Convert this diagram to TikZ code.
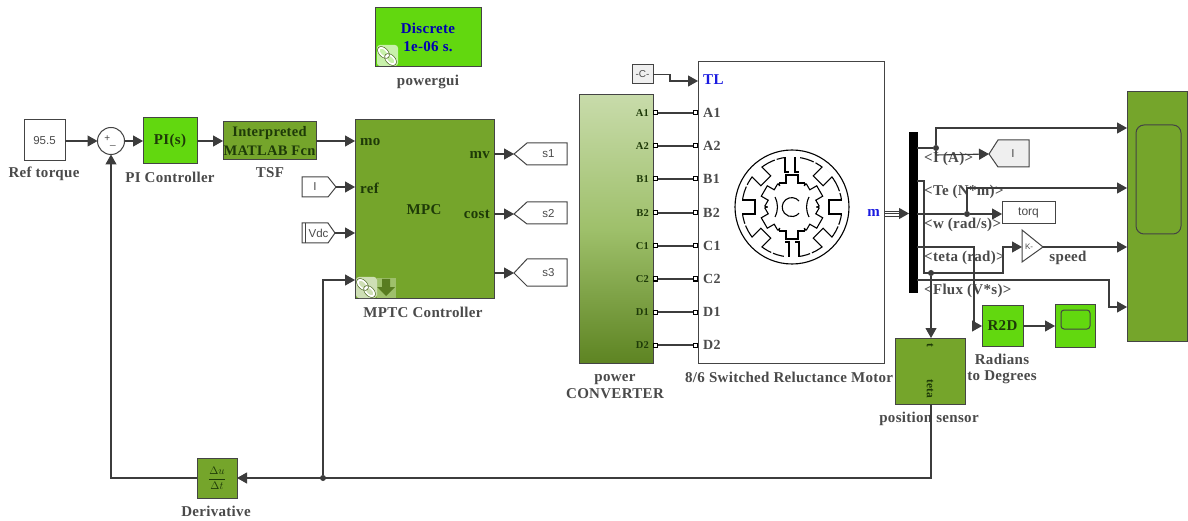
\documentclass[tikz,border=0pt]{standalone}
\usepackage{fontspec}
\setmainfont[LetterSpace=2]{Liberation Serif}
\newfontfamily\sansf{Liberation Sans}
\usetikzlibrary{arrows.meta,calc}
\definecolor{bright}{HTML}{62D80F}
\definecolor{olive}{HTML}{75A52B}
\definecolor{wire}{HTML}{3C3C3C}
\definecolor{edge}{HTML}{444444}
\definecolor{lab}{HTML}{4A4A4A}
\definecolor{inkg}{HTML}{1E3A08}
\definecolor{tagfill}{HTML}{EFEFEF}
\definecolor{blueport}{HTML}{1A1AE0}
\tikzset{
  blk/.style={draw=edge,line width=1pt,inner sep=0pt,outer sep=0pt,align=center},
  brightb/.style={blk,fill=bright},
  oliveb/.style={blk,fill=olive},
  plainb/.style={blk,fill=white},
  sig/.style={draw=wire,line width=1.1pt,-{Triangle[length=10pt,width=11pt]}},
  wireonly/.style={draw=wire,line width=1.1pt},
  elec/.style={draw=wire,line width=1.3pt},
  dotj/.style={circle,fill=wire,inner sep=0pt,minimum size=6pt},
  lbl/.style={font=\bfseries\fontsize{15}{17}\selectfont,text=lab,inner sep=0pt,align=center},
  blab/.style={font=\bfseries\fontsize{15}{17}\selectfont,text=inkg,inner sep=0pt,align=center},
  sglab/.style={font=\bfseries\fontsize{15}{17}\selectfont,text=lab,inner sep=0pt},
  plab/.style={font=\bfseries\fontsize{10.5}{13}\selectfont,text=inkg,inner sep=0pt},
  mlab/.style={font=\bfseries\fontsize{14}{16}\selectfont,text=lab,inner sep=0pt},
  blue/.style={font=\bfseries\fontsize{15}{17}\selectfont,text=blueport,inner sep=0pt},
  sf/.style={font=\sansf\fontsize{11.5}{13}\selectfont,text=lab,inner sep=0pt},
  port/.style={draw=black,fill=white,line width=1pt,inner sep=0pt,minimum size=4pt},
  icon/.style={black,line width=1.1pt},
}
% name, x1, y1, x2, y2, style, text
\newcommand{\blkat}[7]{\node[#6,minimum width={(#4-#2)*1pt},minimum height={(#5-#3)*1pt}] (#1) at ({(#2+#4)/2},{(#3+#5)/2}) {#7};}
\newcommand{\linkicon}[2]{%
  \fill[white,opacity=.65,rounded corners=3pt] (#1-10,#2-11) rectangle (#1+11,#2+10);
  \draw[white,line width=2pt,rotate around={45:(#1,#2)}] (#1,#2-5) ellipse (3.5 and 6) (#1,#2+5) ellipse (3.5 and 6);
  \draw[olive!60!black,line width=.5pt,rotate around={45:(#1,#2)}] (#1,#2-5) ellipse (4.5 and 7) (#1,#2+5) ellipse (4.5 and 7);}
\begin{document}
\begin{tikzpicture}[x=1pt,y=-1pt]
\useasboundingbox (0,0) rectangle (1188,521);
\fill[white] (0,0) rectangle (1188,521);

% --- left chain
\blkat{ref}{24}{120}{65}{161}{plainb}{\sansf\fontsize{11.5}{13}\selectfont\color{lab}95.5}
\node[draw=edge,fill=white,circle,line width=1pt,minimum size=27pt,inner sep=0pt,outer sep=0pt] (sum) at (111,141) {};
\node[font=\sansf\fontsize{10}{10}\selectfont,text=lab,inner sep=0pt] (sumtxt) at (110,141) {+\raisebox{-3pt}{\_}};
\blkat{pi}{143}{118}{197}{164}{brightb}{\color{inkg}\bfseries\fontsize{15}{17}\selectfont PI(s)}
\blkat{tsf}{223}{122}{316}{160}{oliveb,font=\bfseries\fontsize{14.5}{19}\selectfont,text=inkg}{Interpreted\\MATLAB Fcn}
\node[lbl] (reflab) at (44,174) {Ref torque};
\node[lbl] (pilab) at (170,177) {PI Controller};
\node[lbl] (tsflab) at (270,173) {TSF};

% --- powergui
\blkat{gui}{375}{8}{481}{67}{brightb,font=\bfseries\fontsize{15}{18}\selectfont,text=blue!70!black}{Discrete\\1e-06 s.}
\linkicon{387}{56}
\node[lbl] (guilab) at (428,82) {powergui};

% --- MPC
\blkat{mpc}{355}{120}{494}{298}{oliveb}{}
\node[blab] (mpct) at (424,210) {MPC};
\node[blab,anchor=west] (mo) at (360,142) {mo};
\node[blab,anchor=west] (reft) at (360,188) {ref};
\node[blab,anchor=east] (mv) at (490,155) {mv};
\node[blab,anchor=east] (cost) at (490,214) {cost};
\linkicon{366}{288}
\fill[white,opacity=.3] (377,278) rectangle (396,298);
\fill[olive!75!black] (382,279) -- (390,279) -- (390,287) -- (395,287) -- (386,296) -- (377,287) -- (382,287) -- cycle;
\node[lbl] (mpclab) at (423,312) {MPTC Controller};

% --- tags
\draw[edge,line width=1pt,fill=white] (302,177) -- (328,177) -- (336,187) -- (328,197) -- (302,197) -- cycle;
\node[minimum width=34pt,minimum height=20pt,inner sep=0pt,outer sep=0pt,sf] (tagi) at (319,187) {\hspace{-8pt}I};
\draw[edge,line width=1pt,fill=white] (302,223) -- (328,223) -- (335,233) -- (328,243) -- (302,243) -- cycle;
\draw[edge,line width=.8pt] (305,223) -- (305,243);
\node[minimum width=33pt,minimum height=20pt,inner sep=0pt,outer sep=0pt,sf] (tagv) at (318.5,233) {Vdc};

\draw[edge,line width=1pt,fill=white] (514,154) -- (527,143) -- (567,143) -- (567,165) -- (527,165) -- cycle;
\node[minimum width=53pt,minimum height=22pt,inner sep=0pt,outer sep=0pt,sf] (s1) at (540.5,154) {\hspace{16pt}s1};
\draw[edge,line width=1pt,fill=white] (514,214) -- (527,202) -- (567,202) -- (567,224) -- (527,224) -- cycle;
\node[minimum width=53pt,minimum height=22pt,inner sep=0pt,outer sep=0pt,sf] (s2) at (540.5,214) {\hspace{16pt}s2};
\draw[edge,line width=1pt,fill=white] (514,273) -- (527,259) -- (567,259) -- (567,286) -- (527,286) -- cycle;
\node[minimum width=53pt,minimum height=22pt,inner sep=0pt,outer sep=0pt,sf] (s3) at (540.5,273) {\hspace{16pt}s3};

% --- converter
\blkat{conv}{579}{95}{653}{363}{blk,top color=olive!40!white,bottom color=olive!80!black,middle color=olive!70!white}{}
\node[lbl] (convlab) at (615,386.5) {power\\CONVERTER};

% --- motor
\blkat{motor}{698}{62}{884}{363}{plainb}{}
\node[blue,anchor=west] (tl) at (703,80) {TL};
\node[blue,anchor=east] (mt) at (880,213) {m};
\node[lbl,anchor=west] (motlab) at (685,377) {8/6 Switched Reluctance Motor};
\blkat{cst}{632}{65}{653}{84}{blk,fill=tagfill}{\sansf\fontsize{10}{10}\selectfont\color{lab}-C-}

\foreach \nm/\yy in {A1/113,A2/146,B1/179,B2/213,C1/246,C2/279,D1/312,D2/345}{
  \node[plab,anchor=east] (cl\nm) at (649,\yy) {\nm};
  \node[mlab,anchor=west] (ml\nm) at (703,\yy) {\nm};
  \node[port] (pc\nm) at (655.5,\yy) {};
  \node[port] (pm\nm) at (695,\yy) {};
  \draw[elec] (pc\nm) -- (pm\nm);
}

% --- motor icon
\begin{scope}[shift={(792,207)}]
  \draw[icon] (0,0) circle (57);
  \draw[icon,dash pattern=on 18pt off 2pt] (0,0) circle (50);
  \foreach \a in {0,45,135,180,225,315}{
    \begin{scope}[rotate=\a]
      \fill[white] (37,-7) rectangle (51,7);
      \draw[icon] (50,-7) -- (37,-7) -- (37,7) -- (50,7);
    \end{scope}}
  \foreach \a in {90,270}{
    \begin{scope}[rotate=\a]
      \fill[white] (35,-8) rectangle (51,8);
      \draw[icon] (50,-7) -- (35,-7) -- (35,-3);
      \draw[icon,line width=1.6pt] (50,3) -- (35,3) -- (35,7);
    \end{scope}}
  \foreach \a in {30,90,150,210,270,330}{
    \begin{scope}[rotate=\a]
      \draw[icon] (24,-13) -- (24,-6) -- (32,-6) -- (32,6) -- (24,6) -- (24,13);
      \draw[icon] (24,-13) -- (21,-12.5) (24,13) -- (21,12.5);
    \end{scope}}
  \draw[icon,line width=1.6pt] (-6,-32) -- (6,-32) (-6,32) -- (6,32);
  \draw[icon] (7,-6) arc[start angle=-40,end angle=-320,radius=9.5];
  \draw[icon] (17,-10) to[bend right=25] (17,10);
  \draw[icon] (-17,-10) to[bend left=25] (-17,10);
\end{scope}

% --- bus
\blkat{bus}{909}{133}{917}{292}{blk,fill=black,draw=black}{}
\draw[draw=wire,line width=.8pt] (885,211) -- (902,211) (885,213.5) -- (902,213.5) (885,216) -- (902,216);
\draw[draw=wire,line width=1pt,-{Triangle[length=10pt,width=11pt]}] (898,213.5) -- (909,213.5);

% --- scope
\blkat{scope}{1127}{92}{1187}{341}{oliveb}{}
\draw[edge,line width=1pt,rounded corners=8pt] (1136,125) rectangle (1181,234);

% --- right-hand blocks
\draw[edge,line width=1pt,fill=tagfill] (989,154) -- (998,140) -- (1029,140) -- (1029,167) -- (998,167) -- cycle;
\node[minimum width=40pt,minimum height=27pt,inner sep=0pt,outer sep=0pt,sf] (tagia) at (1009,154) {\hspace{8pt}I};
\blkat{torq}{1002}{202}{1055}{224}{plainb}{\sansf\fontsize{12}{13}\selectfont\color{lab}torq}
\draw[edge,line width=1pt,fill=white] (1022,230) -- (1043,247) -- (1022,262) -- cycle;
\node[minimum width=21pt,minimum height=32pt,inner sep=0pt,outer sep=0pt,font=\sansf\fontsize{8}{8}\selectfont,text=lab] (gain) at (1032.5,247) {\hspace{-7pt}K-};
\node[sglab] (speedl) at (1068,258) {speed};
\blkat{r2d}{982}{305}{1023}{346}{brightb}{\color{inkg}\bfseries\fontsize{15}{17}\selectfont R2D}
\blkat{sc2}{1055}{304}{1095}{347}{brightb}{}
\draw[edge,line width=1pt,rounded corners=3pt] (1061,310) rectangle (1090,329);
\node[lbl] (radl) at (1002,359) {Radians};
\node[lbl] (degl) at (1002,377) {to Degrees};
\blkat{der}{197}{458}{237}{498}{oliveb}{\color{inkg}\fontsize{11}{11}\selectfont $\displaystyle\frac{\Delta u}{\Delta t}$}
\node[lbl] (derl) at (216,511) {Derivative};

% --- signal labels
\node[sglab,anchor=west] at (924,159) {<I (A)>};
\node[sglab,anchor=west] at (924,192) {<Te (N*m)>};
\node[sglab,anchor=west] at (924,225) {<w (rad/s)>};
\node[sglab,anchor=west] at (924,258) {<teta (rad)>};
\node[sglab,anchor=west] at (924,291) {<Flux (V*s)>};

% --- junctions
\coordinate (o1) at (bus.east |- 0,148);
\node[dotj] (j1) at (936,148) {};
\node[dotj] (jw) at (967,214) {};
\node[dotj] (j2) at (931,273) {};
\node[dotj] (jd) at (323,478) {};

% --- signals
\draw[sig] (ref.east |- sum.west) -- (sum.west);
\draw[sig] (sum.east) -- (pi.west |- sum.east);
\draw[sig] (pi.east |- tsf.west) -- (tsf.west);
\draw[sig] (tsf.east) -- (mpc.west |- tsf.east);
\draw[sig] (tagi.east) -- (mpc.west |- tagi.east);
\draw[sig] (tagv.east) -- (mpc.west |- tagv.east);
\draw[sig] (mpc.east |- s1.west) -- (s1.west);
\draw[sig] (mpc.east |- s2.west) -- (s2.west);
\draw[sig] (mpc.east |- s3.west) -- (s3.west);
\draw[sig] (cst.east) -- (670,74.5) -- (670,81) -- (motor.west |- 0,81);
\draw[wireonly] (o1) -- (j1);
\draw[sig] (j1) |- (scope.west |- 0,128);
\draw[wireonly] (j1) -- (936,155);
\draw[sig] (936,155) -- (tagia.west);
\draw[wireonly] (bus.east |- jw) -- (jw);
\draw[sig] (jw) -- (torq.west |- jw);
\draw[sig] (jw) |- (scope.west |- 0,188);
\draw[sig] (bus.east |- 0,181) -- (924,181) -- (924,273) -- (1003,273) -- (1003,247) -- (gain.west);
\draw[sig] (j2) -- (931,338);
\draw[sig] (gain.east) -- (scope.west |- gain.east);
\draw[sig] (bus.east |- 0,247) -- (974,247) -- (974,326) -- (r2d.west |- 0,326);
\draw[sig] (bus.east |- 0,280) -- (1109,280) -- (1109,307) -- (scope.west |- 0,307);
\draw[sig] (r2d.east |- 0,326) -- (sc2.west |- 0,326);

% --- position sensor
\blkat{sens}{895}{338}{965}{404}{oliveb}{}
\node[rotate=-90,font=\bfseries\fontsize{11.5}{12}\selectfont,text=inkg,inner sep=0pt] (st) at (930,345) {t};
\node[rotate=-90,font=\bfseries\fontsize{11.5}{12}\selectfont,text=inkg,inner sep=0pt] (steta) at (930,389) {teta};
\node[lbl] (senl) at (929,419) {position sensor};

\draw[sig] (931,404) |- (der.east);
\draw[sig] (der.west) -| (sum.south);
\draw[sig] (jd) |- (mpc.west |- 0,280);
\end{tikzpicture}
\end{document}
